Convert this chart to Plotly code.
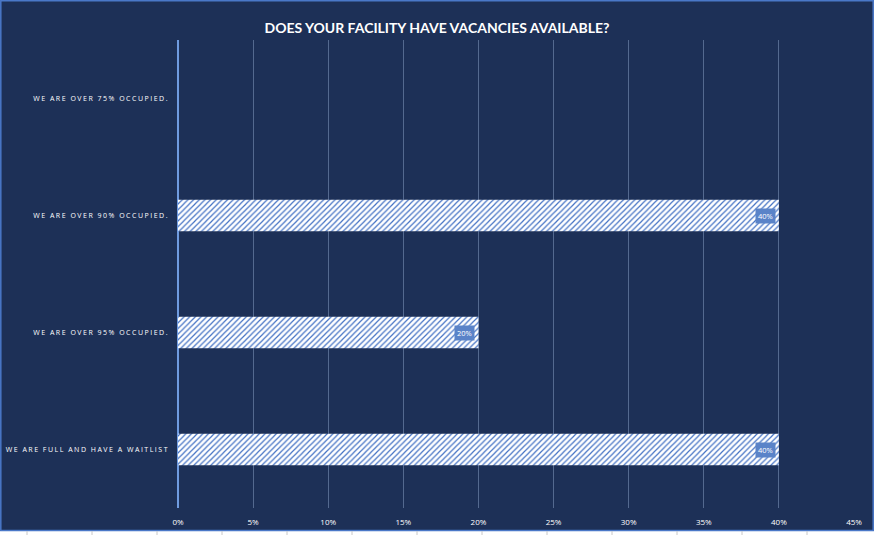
import plotly.graph_objects as go

categories = ["WE ARE FULL AND HAVE A WAITLIST", "WE ARE OVER 95% OCCUPIED.",
              "WE ARE OVER 90% OCCUPIED.", "WE ARE OVER 75% OCCUPIED."]
values = [0.40, 0.20, 0.40, 0.0]
label_texts = ["40%", "20%", "40%", ""]
tick_vals = [0, 0.05, 0.10, 0.15, 0.20, 0.25, 0.30, 0.35, 0.40, 0.45]
tick_text = ["0%", "5%", "10%", "15%", "20%", "25%", "30%", "35%", "40%", "45%"]

NAVY = "#1d3057"
W, H = 876, 535
L, R, T, B = 178, 854, 40, 508

def px(p):
    return (p - L) / (R - L)

def py(p):
    return (B - p) / (B - T)

fig = go.Figure()
fig.add_trace(go.Bar(
    y=categories, x=values, orientation="h", width=0.27,
    marker=dict(color="white", line=dict(width=0),
                pattern=dict(shape="/", fgcolor="#4472c4", bgcolor="white",
                             size=4, solidity=0.3, fillmode="replace")),
    hoverinfo="skip",
))

for c, v, t in zip(categories, values, label_texts):
    if t:
        fig.add_annotation(x=v, y=c, text=t, showarrow=False, xanchor="right",
                           xshift=-3, bgcolor="#5a83c8", borderpad=2,
                           font=dict(family="Open Sans", size=7.5, color="white"))

shapes = [
    dict(type="rect", xref="paper", yref="paper", x0=px(-5), x1=px(W + 5),
         y0=py(531), y1=py(H + 5), fillcolor="white", line=dict(width=0), layer="below"),
    dict(type="rect", xref="paper", yref="paper", x0=px(874), x1=px(W + 5),
         y0=py(H + 5), y1=py(-5), fillcolor="white", line=dict(width=0)),
    dict(type="rect", xref="paper", yref="paper", x0=px(0.8), x1=px(873.2),
         y0=py(530.5), y1=py(0.8), fillcolor="rgba(0,0,0,0)",
         line=dict(color="#4a78c8", width=1.5)),
]
for xt in [27, 92, 157, 222, 287, 352, 417, 482, 547, 612, 677, 742, 807]:
    shapes.append(dict(type="line", xref="paper", yref="paper", x0=px(xt), x1=px(xt),
                       y0=py(531), y1=py(535), line=dict(color="#c8c8c8", width=1)))
fig.update_layout(shapes=shapes)

fig.update_layout(
    width=W, height=H,
    margin=dict(l=L, r=W - R, t=T, b=H - B, autoexpand=False),
    paper_bgcolor=NAVY, plot_bgcolor=NAVY,
    showlegend=False,
    title=dict(text="<b>DOES YOUR FACILITY HAVE VACANCIES AVAILABLE?</b>", x=437 / W, xanchor="center",
               y=1 - 28 / H, yanchor="middle", automargin=False,
               font=dict(family="Lato", size=14, color="white")),
    xaxis=dict(range=[0, 0.45], tickvals=tick_vals, ticktext=tick_text, automargin=False,
               showgrid=True, gridcolor="#54698f", gridwidth=1,
               zeroline=True, zerolinecolor="#6f9be0", zerolinewidth=1.5,
               showline=False, ticks="", ticklabelstandoff=8,
               tickfont=dict(family="Open Sans", size=8, color="white")),
    yaxis=dict(range=[-0.5, 3.5], showgrid=False, zeroline=False, showline=False,
               ticks="", ticklabelstandoff=8, automargin=False,
               tickmode="array", tickvals=categories,
               ticktext=['<span style="letter-spacing:1.5px">' + c + '</span>' for c in categories],
               tickfont=dict(family="Open Sans", size=7, color="white")),
)

fig.write_html("out.html", config={"displayModeBar": False},
               post_script="document.body.style.margin='0px';document.body.style.overflow='hidden';")
